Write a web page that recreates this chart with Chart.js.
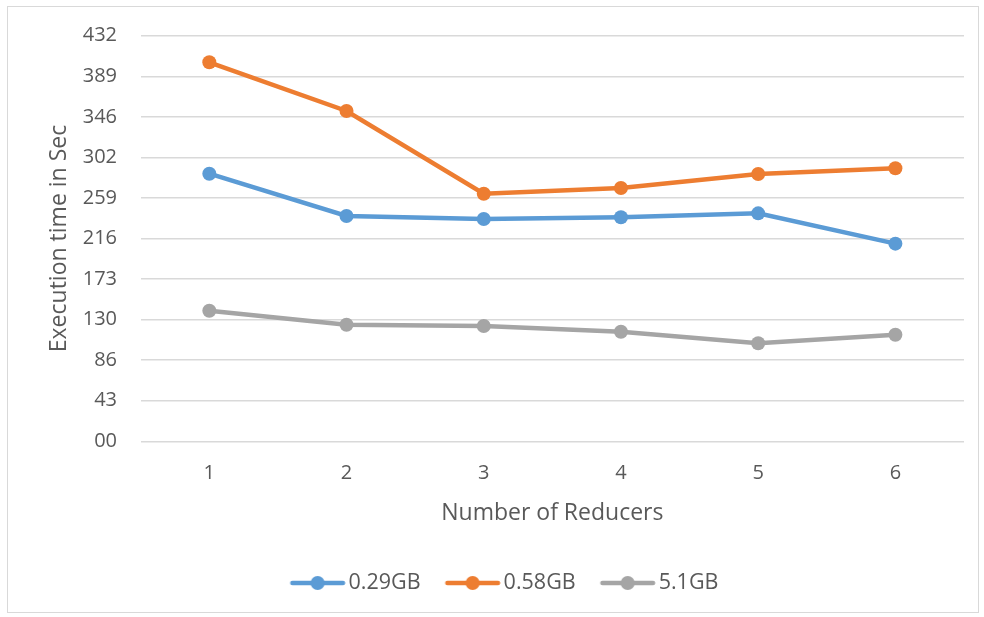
<!DOCTYPE html>
<html>
<head>
<meta charset="utf-8">
<script src="https://cdn.jsdelivr.net/npm/chart.js@4/dist/chart.umd.min.js"></script>
<style>
  html, body { margin: 0; padding: 0; background: #ffffff; overflow: hidden; }
  #frame {
    position: absolute; left: 7px; top: 6px; width: 972px; height: 607px;
    border: 1px solid #d9d9d9; box-sizing: border-box; background: #ffffff;
  }
  #chart { position: absolute; left: 0; top: 0; }
</style>
</head>
<body>
<div id="frame"><canvas id="chart" width="970" height="605"></canvas></div>
<script>
// Number of reducers on the x axis
const reducers = ['1', '2', '3', '4', '5', '6'];

// Execution time (seconds) per input size
const time029GB = [285.0, 240.0, 236.8, 238.6, 242.8, 210.5];
const time058GB = [403.7, 351.8, 263.7, 269.8, 284.7, 290.8];
const time51GB  = [139.1, 124.2, 122.8, 116.7, 104.4, 113.5];

const seriesNames = ['0.29GB', '0.58GB', '5.1GB'];

// Value axis ticks and their printed labels
const yTickValues = [0, 43.2, 86.4, 129.6, 172.8, 216, 259.2, 302.4, 345.6, 388.8, 432];
const yTickLabels = ['00', '43', '86', '130', '173', '216', '259', '302', '346', '389', '432'];

const colors = ['#5b9bd5', '#ed7d31', '#a5a5a5'];
const textColor = '#595959';
const FONT = '"Open Sans", "Liberation Sans", sans-serif';

// Legend swatch: a short line with a marker in the middle
function legendSwatch(color) {
  const c = document.createElement('canvas');
  c.width = 78; c.height = 18;
  const g = c.getContext('2d');
  g.strokeStyle = color;
  g.lineWidth = 4.5;
  g.lineCap = 'round';
  g.beginPath();
  g.moveTo(24.6, 9); g.lineTo(75.2, 9);
  g.stroke();
  g.fillStyle = color;
  g.beginPath();
  g.arc(49.9, 9, 7, 0, Math.PI * 2);
  g.fill();
  return c;
}
const swatches = colors.map(legendSwatch);

function lineSet(label, data, color) {
  return {
    label, data,
    borderColor: color,
    backgroundColor: color,
    borderWidth: 4.5,
    pointRadius: 7,
    pointHoverRadius: 7,
    pointBackgroundColor: color,
    pointBorderWidth: 0,
    tension: 0,
    fill: false
  };
}

new Chart(document.getElementById('chart'), {
  type: 'line',
  data: {
    labels: reducers,
    datasets: [
      lineSet(seriesNames[0], time029GB, colors[0]),
      lineSet(seriesNames[1], time058GB, colors[1]),
      lineSet(seriesNames[2], time51GB, colors[2])
    ]
  },
  options: {
    responsive: false,
    animation: false,
    devicePixelRatio: 1,
    layout: { padding: { left: 22, right: 14, top: 28.7, bottom: 8.25 } },
    plugins: {
      tooltip: { enabled: false },
      legend: {
        position: 'bottom',
        labels: {
          usePointStyle: true,
          pointStyleWidth: 62.25,
          padding: 10,
          color: textColor,
          font: { family: FONT, size: 21.5 },
          generateLabels(chart) {
            const items = Chart.defaults.plugins.legend.labels.generateLabels(chart);
            items.forEach((it, i) => { it.pointStyle = swatches[i]; });
            return items;
          }
        }
      }
    },
    scales: {
      x: {
        type: 'category',
        offset: true,
        grid: { display: false, drawTicks: false },
        border: { display: false },
        ticks: { color: textColor, font: { family: FONT, size: 20 }, padding: 19.7, maxRotation: 0 },
        title: {
          display: true,
          text: 'Number of Reducers',
          color: textColor,
          font: { family: FONT, size: 23 },
          padding: { top: 0, bottom: 35.45 }
        },
        afterFit(scale) { scale.height = 120.95; }
      },
      y: {
        min: 0,
        max: 432,
        grid: { color: '#d9d9d9', lineWidth: 1.5, drawTicks: false },
        border: { display: false },
        afterBuildTicks(scale) {
          scale.ticks = yTickValues.map(v => ({ value: v }));
        },
        ticks: {
          color: textColor,
          font: { family: FONT, size: 20 },
          padding: 23.7,
          callback(value, index) { return yTickLabels[index]; }
        },
        title: {
          display: true,
          text: 'Execution time in Sec',
          color: textColor,
          font: { family: FONT, size: 23 },
          padding: { top: 15.2, bottom: 0 }
        },
        afterFit(scale) {
          scale.width = 110.7;
          scale.paddingTop = 12;
          scale.paddingBottom = 12;
        }
      }
    }
  }
});
</script>
</body>
</html>
